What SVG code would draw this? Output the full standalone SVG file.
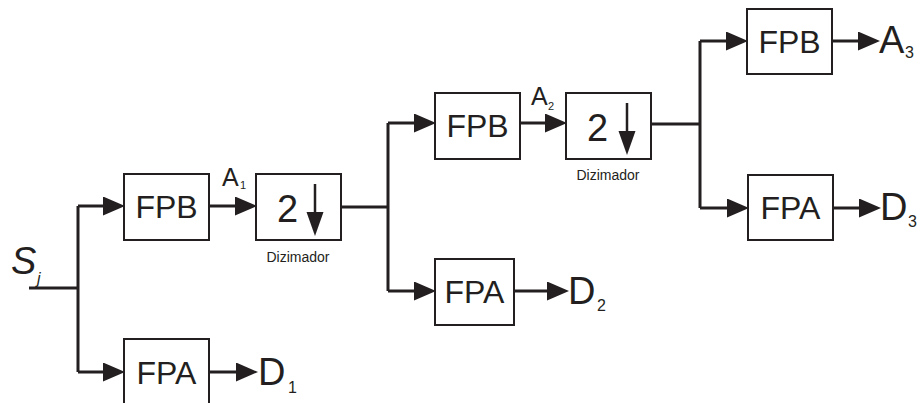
<svg xmlns="http://www.w3.org/2000/svg" width="920" height="403" viewBox="0 0 920 403">
<defs>
<style>
.box{fill:#fff;stroke:#231f20;stroke-width:2}
.w{fill:none;stroke:#231f20;stroke-width:3}
.wa{fill:none;stroke:#231f20;stroke-width:3;marker-end:url(#ah)}
.t{font-family:"Liberation Sans",Arial,sans-serif;fill:#231f20}
.lbl{font-size:32px;text-anchor:middle}
.big{font-size:38px}
.sub{font-size:16px}
.small{font-size:14px;text-anchor:middle}
</style>
<marker id="ah" markerUnits="userSpaceOnUse" markerWidth="24" markerHeight="20" refX="10" refY="9.5" orient="auto" viewBox="0 0 24 20">
<path d="M0,0 L22,9.5 L0,19 z" fill="#231f20"/>
</marker>
</defs>
<rect width="920" height="403" fill="#fff"/>
<g id="connectors">
<path class="w" d="M29,288 H78 M78,206 V372"/>
<path class="wa" d="M78,206 H113"/>
<path class="wa" d="M78,372 H113"/>
<path class="wa" d="M209,206 H245"/>
<path class="wa" d="M209,372 H246"/>
<path class="w" d="M341,207 H388 M388,123 V291"/>
<path class="wa" d="M388,123 H424"/>
<path class="wa" d="M388,291 H424"/>
<path class="wa" d="M520,123 H555"/>
<path class="wa" d="M514,291 H557"/>
<path class="w" d="M651,124 H700 M700,41 V208"/>
<path class="wa" d="M700,41 H736"/>
<path class="wa" d="M700,208 H737"/>
<path class="wa" d="M832,41 H868"/>
<path class="wa" d="M833,208 H869"/>
</g>
<g id="input">
<text class="t" x="11" y="274" font-size="38" font-style="italic">S</text>
<text class="t" x="37" y="284" font-size="16" font-style="italic">j</text>
</g>
<g id="fpb1">
<rect class="box" x="124" y="174" width="85" height="66"/>
<text class="t lbl" x="166.5" y="218">FPB</text>
</g>
<g id="fpa1">
<rect class="box" x="124" y="339" width="85" height="66"/>
<text class="t lbl" x="166.5" y="384">FPA</text>
</g>
<g id="a1">
<text class="t" x="222" y="186" font-size="25">A</text>
<text class="t" x="240" y="189" font-size="11">1</text>
</g>
<g id="diz1">
<rect class="box" x="256" y="174" width="85" height="66"/>
<text class="t" x="277" y="222" font-size="38">2</text>
<path d="M315,184 V214" stroke="#231f20" stroke-width="2.5"/>
<path d="M306.5,212 L323.5,212 L315,236 z" fill="#231f20"/>
<text class="t small" x="298" y="262">Dizimador</text>
</g>
<g id="d1">
<text class="t big" x="258" y="385">D</text>
<text class="t sub" x="288" y="393">1</text>
</g>
<g id="fpb2">
<rect class="box" x="435" y="93" width="85" height="66"/>
<text class="t lbl" x="477.5" y="137">FPB</text>
</g>
<g id="fpa2">
<rect class="box" x="435" y="259" width="79" height="66"/>
<text class="t lbl" x="474.5" y="303">FPA</text>
</g>
<g id="a2">
<text class="t" x="531" y="105" font-size="25">A</text>
<text class="t" x="548" y="110" font-size="11">2</text>
</g>
<g id="diz2">
<rect class="box" x="566" y="93" width="85" height="66"/>
<text class="t" x="587" y="141" font-size="38">2</text>
<path d="M627,103 V133" stroke="#231f20" stroke-width="2.5"/>
<path d="M618.5,131 L635.5,131 L627,155 z" fill="#231f20"/>
<text class="t small" x="608" y="180">Dizimador</text>
</g>
<g id="d2">
<text class="t big" x="568" y="304">D</text>
<text class="t sub" x="597" y="311">2</text>
</g>
<g id="fpb3">
<rect class="box" x="747" y="9" width="85" height="65"/>
<text class="t lbl" x="789.5" y="53">FPB</text>
</g>
<g id="fpa3">
<rect class="box" x="748" y="175" width="85" height="65"/>
<text class="t lbl" x="790.5" y="219">FPA</text>
</g>
<g id="a3">
<text class="t big" x="879" y="53">A</text>
<text class="t sub" x="905" y="58">3</text>
</g>
<g id="d3">
<text class="t big" x="880" y="220">D</text>
<text class="t sub" x="908" y="227">3</text>
</g>
</svg>
